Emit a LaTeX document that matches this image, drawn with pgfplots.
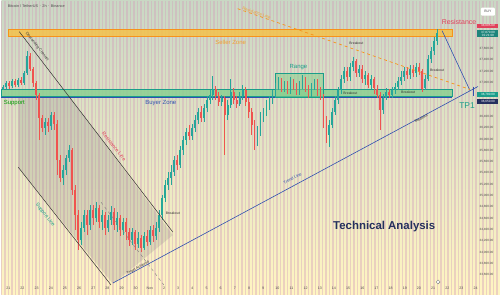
\documentclass[border=0pt]{standalone}
\usepackage{pgfplots}
\pgfplotsset{compat=1.18}
\usepackage{pgfplotstable}
\usepackage{fontspec}
\setmainfont{Liberation Sans}
\definecolor{upc}{HTML}{26A69A}
\definecolor{dnc}{HTML}{EF5350}
\definecolor{bgtop}{HTML}{C9D8C4}
\definecolor{bgmid}{HTML}{D6F4CB}
\definecolor{bgbot}{HTML}{FFF5C2}
\definecolor{stripe}{HTML}{D49CBC}
\definecolor{seller}{HTML}{F4C24A}
\definecolor{sellerline}{HTML}{F7931A}
\definecolor{buyer}{HTML}{86CF8E}
\definecolor{bluel}{HTML}{2F50B0}
\definecolor{tealt}{HTML}{1A9E8A}
\definecolor{navy}{HTML}{25305E}
\definecolor{redt}{HTML}{E0405A}
\definecolor{oranget}{HTML}{F0A030}
\pgfplotstableread{
x o c h l
2 88 86 84 90
5 86 82 80 88
8 82 85 80 88
11 85 80 78 87
14 80 84 78 86
17 84 79 77 86
20 79 82 76 84
23 82 72 70 84
26 72 55 50 74
29 55 68 52 70
32 68 82 66 86
35 82 95 80 100
38 95 118 93 140
41 118 128 115 132
44 128 122 118 135
47 122 126 118 132
50 126 115 112 130
53 115 124 112 130
56 124 160 120 175
59 160 178 155 182
62 178 170 165 185
65 170 158 155 175
68 158 150 145 162
71 150 190 148 195
74 190 215 185 230
77 215 240 210 250
80 240 228 222 245
83 228 215 210 232
86 215 225 210 235
89 225 210 205 230
92 210 218 205 225
95 218 208 202 222
98 208 222 205 228
101 222 215 210 230
104 215 228 212 235
107 228 220 215 232
110 220 212 206 225
113 212 225 208 230
116 225 218 212 232
119 218 230 215 236
122 230 222 218 235
125 222 232 218 240
128 232 240 228 246
131 240 232 228 245
134 232 244 230 250
137 244 238 232 248
140 238 248 235 252
143 248 236 232 250
146 236 242 230 246
149 242 230 226 245
152 230 236 225 242
155 236 228 222 240
158 228 215 210 232
161 215 198 195 220
164 198 185 180 202
167 185 178 172 190
170 178 172 165 185
173 172 160 156 176
176 160 165 155 170
179 165 150 146 168
182 150 140 136 155
185 140 132 128 145
188 132 136 125 140
191 136 128 124 140
194 128 120 115 132
197 120 112 108 124
200 112 118 106 122
203 118 108 104 122
206 108 100 96 112
209 100 95 90 104
212 95 88 75 100
215 88 96 85 100
218 96 102 92 106
221 102 98 95 106
224 98 115 96 155
227 115 105 100 120
230 105 92 78 108
233 92 100 88 104
236 100 104 96 108
239 104 96 92 106
242 96 90 84 100
245 90 102 86 106
248 102 112 98 118
251 112 125 108 135
254 125 140 120 150
257 140 132 126 146
260 132 118 112 136
263 118 112 108 122
266 112 106 100 116
269 106 100 96 110
272 100 94 90 104
275 94 86 82 98
278 86 80 76 90
281 80 88 77 92
284 88 84 80 92
287 84 90 80 94
290 90 82 76 94
293 82 86 78 90
296 86 92 82 95
299 92 84 80 95
302 84 80 74 88
305 80 88 76 92
308 88 94 84 98
311 94 86 82 97
314 86 82 78 90
317 82 90 78 96
320 90 96 86 100
323 96 120 94 128
326 120 135 116 143
329 135 125 120 147
332 125 112 108 128
335 112 100 96 115
338 100 90 86 104
341 90 78 74 94
344 78 70 66 82
347 70 76 66 80
350 76 66 62 80
353 66 60 56 70
356 60 72 58 76
359 72 68 64 76
362 68 78 64 82
365 78 74 70 84
368 74 84 72 88
371 84 78 74 88
374 78 88 76 94
377 88 95 84 98
380 95 110 92 130
383 110 98 94 114
386 98 92 88 100
389 92 95 88 98
392 95 90 86 98
395 90 86 82 94
398 86 80 76 90
401 80 76 70 84
404 76 70 66 80
407 70 74 66 78
410 74 68 64 78
413 68 72 64 76
416 72 66 62 76
419 66 70 62 74
422 70 88 68 92
425 88 78 74 90
428 78 58 54 80
431 58 50 46 62
434 50 40 36 54
437 40 32 28 44
}\candles
\begin{document}
\begin{tikzpicture}
\begin{axis}[
  scale only axis, width=500bp, height=295bp,
  xmin=0, xmax=500, ymin=0, ymax=295, y dir=reverse,
  axis line style={draw=none},
  major tick length=0, minor tick length=0,
  axis background/.style={shade, top color=bgtop, middle color=bgmid, bottom color=bgbot},
  minor xtick={0,3.5,...,500},
  xminorgrids=true,
  minor grid style={line width=1.5bp, color=stripe, opacity=0.4},
  xtick={7,21.2,35.4,49.6,63.8,78,92.2,106.4,120.6,134.8,149,163.2,177.4,191.6,205.8,220,234.2,248.4,262.6,276.8,291,305.2,319.4,333.6,347.8,362,376.2,390.4,404.6,418.8,433,447.2,461.4,475.6},
  xticklabels={21,22,23,24,25,26,27,28,29,30,Nov,2,3,4,5,6,7,8,9,10,11,12,13,14,15,16,17,18,19,20,21,22,23,24},
  xticklabel pos=lower,
  xticklabel style={font=\fontsize{3.6}{4}\selectfont, text=black!70, anchor=south, yshift=2bp},
  ytick={48,59.35,70.7,82.05,116.1,127.45,138.8,150.15,161.5,172.85,184.2,195.55,206.9,218.25,229.6,240.95,252.3,263.65,275},
  yticklabels={37{,}600.00,37{,}400.00,37{,}200.00,37{,}000.00,36{,}400.00,36{,}200.00,36{,}000.00,35{,}800.00,35{,}600.00,35{,}400.00,35{,}200.00,35{,}000.00,34{,}800.00,34{,}600.00,34{,}400.00,34{,}200.00,34{,}000.00,33{,}800.00,33{,}600.00},
  yticklabel pos=upper,
  yticklabel style={font=\fontsize{3.1}{3.5}\selectfont, text=black!70, anchor=east, xshift=-3bp},
  /pgf/number format/assume math mode=true,
  clip=false
]
% channel
\addplot[fill=gray, fill opacity=0.22, draw=none] coordinates {(17,96) (68,96) (172,235) (112,284) (17,167)} -- cycle;
% zones
\addplot[fill=seller, fill opacity=0.85, draw=sellerline, line width=0.8bp] coordinates {(7,29) (452,29) (452,36) (7,36)} -- cycle;
\addplot[fill=buyer, fill opacity=0.8, draw=tealt, line width=0.3bp] coordinates {(0,89) (452,89) (452,96) (0,96)} -- cycle;
\addplot[bluel, line width=0.6bp] coordinates {(0,96.5) (452,96.5)};
\addplot[fill=buyer, fill opacity=0.55, draw=tealt, line width=0.4bp] coordinates {(275,73) (323,73) (323,97) (275,97)} -- cycle;
% candles: wicks
\addplot[draw=none, mark=none, restrict expr to domain={\thisrow{c}-\thisrow{o}}{-1000:-0.001},
  error bars/.cd, y dir=both, y explicit, error mark=none, error bar style={draw=upc, line width=0.45bp}]
  table[x=x, y expr={(\thisrow{h}+\thisrow{l})/2}, y error expr={(\thisrow{l}-\thisrow{h})/2}] {\candles};
\addplot[draw=none, mark=none, restrict expr to domain={\thisrow{c}-\thisrow{o}}{0.001:1000},
  error bars/.cd, y dir=both, y explicit, error mark=none, error bar style={draw=dnc, line width=0.45bp}]
  table[x=x, y expr={(\thisrow{h}+\thisrow{l})/2}, y error expr={(\thisrow{l}-\thisrow{h})/2}] {\candles};
% bodies
\addplot[draw=none, mark=none, restrict expr to domain={\thisrow{c}-\thisrow{o}}{-1000:-0.001},
  error bars/.cd, y dir=both, y explicit, error mark=none, error bar style={draw=upc, line width=1.8bp}]
  table[x=x, y expr={(\thisrow{o}+\thisrow{c})/2}, y error expr={abs(\thisrow{o}-\thisrow{c})/2}] {\candles};
\addplot[draw=none, mark=none, restrict expr to domain={\thisrow{c}-\thisrow{o}}{0.001:1000},
  error bars/.cd, y dir=both, y explicit, error mark=none, error bar style={draw=dnc, line width=1.8bp}]
  table[x=x, y expr={(\thisrow{o}+\thisrow{c})/2}, y error expr={abs(\thisrow{o}-\thisrow{c})/2}] {\candles};
% lines
\addplot[black!80, line width=0.5bp] coordinates {(18,31) (172,232)};
\addplot[black!80, line width=0.5bp] coordinates {(17,167) (110,285)};
\addplot[gray, dashed, line width=0.4bp] coordinates {(100,202) (163,285)};
\addplot[bluel, line width=0.6bp] coordinates {(112,283) (478,86)};
\addplot[bluel, line width=0.6bp] coordinates {(442,30) (470,90)};
\addplot[sellerline, dashed, line width=0.7bp] coordinates {(237,8) (470,89)};
\addplot[bluel, line width=1bp] coordinates {(474,86) (474,96)};
% texts
\node[anchor=west, font=\fontsize{3.8}{4}\selectfont, text=black!70] at (axis cs:3,5) {Bitcoin / TetherUS $\cdot$ 2h $\cdot$ Binance};
\node[fill=white, rounded corners=1bp, font=\fontsize{3.5}{4}\selectfont, text=black!70, inner sep=1.5bp, minimum width=14bp, minimum height=8bp] at (axis cs:488,11) {BUY};
\node[font=\fontsize{7}{8}\selectfont, text=redt] at (axis cs:459,21) {Resistance};
\node[fill=redt, text=white, font=\fontsize{3.1}{3.5}\selectfont, inner sep=0.8bp, minimum width=21bp] at (axis cs:488,25) {38,005.00};
\node[fill=upc!80!black, text=white, font=\fontsize{3.1}{3.5}\selectfont, inner sep=0.8bp, minimum width=21bp, align=center] at (axis cs:488,33) {37,870.00\\[-0.5bp]01:21:09};
\node[fill=tealt, text=white, font=\fontsize{3.1}{3.5}\selectfont, inner sep=0.8bp, minimum width=21bp] at (axis cs:488,94) {36,780.00};
\node[fill=navy, text=white, font=\fontsize{3.1}{3.5}\selectfont, inner sep=0.8bp, minimum width=21bp] at (axis cs:488,101) {36,650.00};
\node[font=\fontsize{6}{7}\selectfont, text=oranget] at (axis cs:230,42) {Seller Zone};
\node[font=\fontsize{6}{7}\selectfont, text=green!60!black] at (axis cs:13,103) {Support};
\node[font=\fontsize{6}{7}\selectfont, text=bluel] at (axis cs:160,103) {Buyer Zone};
\node[font=\fontsize{8.5}{9}\selectfont, text=tealt] at (axis cs:467,105) {TP1};
\node[font=\fontsize{6}{7}\selectfont, text=tealt] at (axis cs:298,67) {Range};
\node[font=\bfseries\fontsize{11.5}{12}\selectfont, text=navy] at (axis cs:384,226) {Technical Analysis};
\node[font=\fontsize{5}{6}\selectfont, text=redt, rotate=-52, inner sep=0pt] at (axis cs:113,146) {Resistance Line};
\node[font=\fontsize{5}{6}\selectfont, text=tealt, rotate=-52, inner sep=0pt] at (axis cs:44,215) {Support Line};
\node[font=\fontsize{3.8}{4}\selectfont, text=black!80, rotate=-52, inner sep=0pt] at (axis cs:36,46) {Descending Channel};
\node[font=\fontsize{4.2}{5}\selectfont, text=bluel, rotate=28, inner sep=0pt] at (axis cs:292,178) {Trend Line};
\node[font=\fontsize{4.2}{5}\selectfont, text=oranget, rotate=-19, inner sep=0pt] at (axis cs:256,12) {Resistance Line};
\node[font=\fontsize{3.5}{4}\selectfont, text=black!80, rotate=28, inner sep=0pt] at (axis cs:137,268) {Target Achieved};
\node[font=\fontsize{3.5}{4}\selectfont, text=black!80] at (axis cs:172,213) {Breakout};
\node[font=\fontsize{3.5}{4}\selectfont, text=black!80] at (axis cs:356,43) {Breakout};
\node[font=\fontsize{3.5}{4}\selectfont, text=black!80] at (axis cs:437,70) {Breakout};
\node[font=\fontsize{3.5}{4}\selectfont, text=black!80] at (axis cs:350,93) {Breakout};
\node[font=\fontsize{3.5}{4}\selectfont, text=black!80] at (axis cs:408,92) {Breakout};
\node[font=\fontsize{3.5}{4}\selectfont, text=black!80, rotate=28, inner sep=0pt] at (axis cs:421,118) {Breakout};
\node[circle, draw=gray, fill=white, inner sep=1.4bp] at (axis cs:438,282) {};
\end{axis}
\end{tikzpicture}
\end{document}
